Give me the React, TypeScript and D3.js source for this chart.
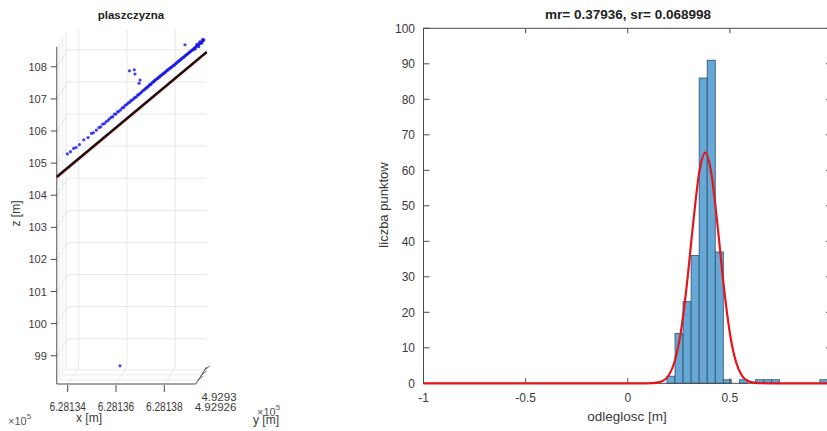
import React from "react";
import * as d3 from "d3";

const W = 827;
const H = 431;

// ---------- Left: 3D scatter "plaszczyzna" ----------
const leftTitle = "plaszczyzna";
const xDomain = [628133.55, 628139.3];
const yDomain = [492924.43, 492931.1];
const zDomain = [98.12, 108.62];
const zTicks = [99, 100, 101, 102, 103, 104, 105, 106, 107, 108];
const xTicks = [628134, 628136, 628138];
const xTickLabels = ["6.28134", "6.28136", "6.28138"];
const yTicks = [492926, 492928, 492930];
const yTickLabels = ["4.92926", "", "4.9293"];

// measured points (x, z); all lie at roughly the same depth
const pointsDepth = 492929.8;
const ptX = [
  628133.62, 628133.75, 628133.88, 628133.98, 628134.12, 628134.3, 628134.48, 628134.62, 628134.7, 628134.82,
  628134.93, 628135.0, 628135.08, 628135.15, 628135.22, 628135.3, 628135.36, 628135.44, 628135.5, 628135.57,
  628135.63, 628135.7, 628135.76, 628135.83, 628135.9, 628135.96, 628136.02, 628136.08, 628136.14, 628136.2,
  628136.25, 628136.31, 628136.37, 628136.42, 628136.48, 628136.53, 628136.58, 628136.63, 628136.68, 628136.73,
  628136.78, 628136.83, 628136.87, 628136.92, 628136.96, 628137.0, 628137.04, 628137.08, 628137.12, 628137.16,
  628137.2, 628137.24, 628137.28, 628137.32, 628137.36, 628137.4, 628137.44, 628137.48, 628137.52, 628137.56,
  628137.6, 628137.64, 628137.68, 628137.72, 628137.76, 628137.8, 628137.84, 628137.88, 628137.92, 628137.96,
  628138.0, 628138.04, 628138.08, 628138.12, 628138.16, 628138.2, 628138.24, 628138.28, 628138.32, 628138.36,
  628138.4, 628138.44, 628138.48, 628138.52, 628138.56, 628138.6, 628138.64, 628138.68, 628138.72, 628138.76,
  628138.8, 628138.84, 628138.88, 628138.92, 628138.96, 628139.0, 628139.04, 628139.08, 628139.12, 628139.16,
  628139.2, 628139.24, 628139.27, 628138.98, 628139.1, 628139.18, 628139.22, 628138.9, 628139.06,
  628136.19, 628136.39, 628136.42, 628136.63, 628136.59, 628138.49, 628135.8,
];
const ptZ = [
  104.86, 104.93, 105.03, 105.06, 105.15, 105.3, 105.37, 105.5, 105.52, 105.6,
  105.68, 105.7, 105.79, 105.8, 105.86, 105.9, 105.95, 106.0, 106.02, 106.1,
  106.1, 106.17, 106.19, 106.24, 106.3, 106.31, 106.38, 106.4, 106.45, 106.47,
  106.52, 106.54, 106.58, 106.62, 106.64, 106.7, 106.7, 106.75, 106.77, 106.82,
  106.84, 106.88, 106.9, 106.94, 106.95, 106.99, 107.03, 107.02, 107.07, 107.1,
  107.11, 107.15, 107.17, 107.2, 107.21, 107.25, 107.26, 107.3, 107.31, 107.35,
  107.36, 107.39, 107.41, 107.44, 107.47, 107.48, 107.52, 107.53, 107.56, 107.58,
  107.61, 107.62, 107.66, 107.68, 107.7, 107.74, 107.75, 107.79, 107.8, 107.83,
  107.86, 107.87, 107.91, 107.93, 107.95, 107.98, 108.0, 108.03, 108.05, 108.08,
  108.1, 108.13, 108.16, 108.17, 108.21, 108.23, 108.25, 108.29, 108.31, 108.34,
  108.36, 108.39, 108.41, 108.27, 108.35, 108.31, 108.43, 108.12, 108.2,
  107.45, 107.48, 107.35, 107.16, 107.06, 108.26, 98.26,
];

// fitted plane seen edge-on
const planeX = [628133.55, 628139.3];
const planeY = [492924.43, 492931.1];
const planeZ = [104.58, 107.94];

// ---------- Right: histogram ----------
const rightTitle = "mr= 0.37936, sr= 0.068998";
const histXTicks = [-1, -0.5, 0, 0.5, 1];
const histYTicks = [0, 10, 20, 30, 40, 50, 60, 70, 80, 90, 100];
const binStart = 0.192;
const binWidth = 0.0394;
const binCounts = [2, 14, 23, 36, 86, 91, 37, 1, 0, 1, 0, 1, 1, 1, 0, 0, 0, 0, 0, 1];
const fitX = [-1, 0.05, 0.12, 0.16, 0.2, 0.23, 0.26, 0.29, 0.32, 0.35, 0.38, 0.41, 0.44, 0.47, 0.5, 0.53, 0.56, 0.6, 0.64, 0.7, 1];
const fitY = [0, 0, 0.06, 0.41, 2.2, 6.2, 14.5, 28.1, 44.9, 59.4, 65.0, 58.9, 44.2, 27.5, 14.1, 6.0, 2.1, 0.39, 0.05, 0, 0];

const FONT = "'Liberation Sans', Arial, Helvetica, sans-serif";
const AX = "#4a4a4a";
const TXT = "#3a3a3a";
const GRID = "#e2e2e2";

export default function App() {
  // 3D projection scales
  const X = d3.scaleLinear().domain(xDomain).range([56.8, 195.7]);
  const Z = d3.scaleLinear().domain(zDomain).range([384, 46.9]);
  const F = d3.scaleLinear().domain(yDomain).range([0, 1]);
  const DX = 11;
  const DY = -17;
  const proj = (x: number, y: number, z: number): [number, number] => [
    X(x) + DX * F(y),
    Z(z) + DY * F(y),
  ];
  const [x0, x1] = xDomain;
  const [y0, y1] = yDomain;
  const [z0, z1] = zDomain;

  const seg = (a: [number, number], b: [number, number], key: string, stroke: string, sw = 0.8) => (
    <line key={key} x1={a[0]} y1={a[1]} x2={b[0]} y2={b[1]} stroke={stroke} strokeWidth={sw} />
  );

  const grid: React.ReactNode[] = [];
  xTicks.forEach((x, i) => {
    grid.push(seg(proj(x, y1, z0), proj(x, y1, z1), "bx" + i, GRID));
    grid.push(seg(proj(x, y0, z0), proj(x, y1, z0), "fx" + i, GRID));
  });
  zTicks.forEach((z, i) => {
    grid.push(seg(proj(x0, y1, z), proj(x1, y1, z), "bz" + i, GRID));
    grid.push(seg(proj(x0, y0, z), proj(x0, y1, z), "sz" + i, GRID));
  });
  yTicks.forEach((y, i) => {
    grid.push(seg(proj(x0, y, z0), proj(x1, y, z0), "fy" + i, GRID));
    grid.push(seg(proj(x0, y, z0), proj(x0, y, z1), "sy" + i, GRID));
  });

  const planeA = proj(planeX[0], planeY[0], planeZ[0]);
  const planeB = proj(planeX[1], planeY[1], planeZ[1]);

  // histogram scales
  const hx = d3.scaleLinear().domain([-1, 1]).range([423.5, 832]);
  const hy = d3.scaleLinear().domain([0, 100]).range([383.3, 28.3]);
  const fitLine = d3
    .line<number>()
    .x((_, i) => hx(fitX[i]))
    .y((d) => hy(d))
    .curve(d3.curveMonotoneX)(fitY) as string;

  const tk = 6;

  return (
    <svg
      width={W}
      height={H}
      style={{ position: "absolute", left: 0, top: 0, background: "#fff" }}
      fontFamily={FONT}
    >
      <rect x={0} y={0} width={W} height={H} fill="#fff" />
      {/* ---------- Left 3D plot ---------- */}
      <g>{grid}</g>
      {/* axes */}
      {seg(proj(x0, y0, z0), proj(x0, y0, z1), "zax", AX, 1)}
      {seg(proj(x0, y0, z0), proj(x1, y0, z0), "xax", AX, 1)}
      {seg(proj(x1, y0, z0), proj(x1, y1, z0), "yax", AX, 1)}
      {zTicks.map((z, i) => {
        const [px, py] = proj(x0, y0, z);
        return (
          <g key={"zt" + i}>
            <line x1={px - 6} y1={py} x2={px} y2={py} stroke={AX} strokeWidth={1} />
            <text x={px - 10} y={py + 4} textAnchor="end" fontSize={11} fill={TXT}>
              {z}
            </text>
          </g>
        );
      })}
      {xTicks.map((x, i) => {
        const [px, py] = proj(x, y0, z0);
        return (
          <g key={"xt" + i}>
            <line x1={px} y1={py + 1} x2={px} y2={py + 8} stroke={AX} strokeWidth={1} />
            <text
              x={px}
              y={py + 27}
              textAnchor="middle"
              fontSize={12}
              fill={TXT}
              textLength={36.5}
              lengthAdjust="spacingAndGlyphs"
            >
              {xTickLabels[i]}
            </text>
          </g>
        );
      })}
      {yTicks.map((y, i) => {
        const [px, py] = proj(x1, y, z0);
        return (
          <g key={"yt" + i}>
            <line x1={px} y1={py} x2={px + 5} y2={py - 4} stroke={AX} strokeWidth={0.8} />
            {yTickLabels[i] ? (
              <text x={px - 3.5} y={py + 31.5} fontSize={11.5} fill={TXT}>
                {yTickLabels[i]}
              </text>
            ) : null}
          </g>
        );
      })}
      {/* plane */}
      <line x1={planeA[0]} y1={planeA[1] + 0.7} x2={planeB[0]} y2={planeB[1] + 0.7} stroke="#8a1010" strokeWidth={2.2} />
      <line x1={planeA[0]} y1={planeA[1]} x2={planeB[0]} y2={planeB[1]} stroke="#111" strokeWidth={2} />
      {/* points */}
      {ptX.map((x, i) => {
        const [px, py] = proj(x, pointsDepth, ptZ[i]);
        return <circle key={"p" + i} cx={px} cy={py} r={1.6} fill="#1414e6" fillOpacity={0.8} />;
      })}
      <text x={131} y={18.5} textAnchor="middle" fontSize={11.5} fontWeight="bold" fill="#222">
        {leftTitle}
      </text>
      <text transform="translate(20,213.5) rotate(-90)" textAnchor="middle" fontSize={12} fill={TXT}>
        z [m]
      </text>
      <text x={89} y={422} textAnchor="middle" fontSize={12} fill={TXT}>
        x [m]
      </text>
      <text x={8} y={425} fontSize={11} fill="#555">
        ×10
        <tspan dy={-6} fontSize={8}>
          5
        </tspan>
      </text>
      <text x={253} y={424} fontSize={12} fill={TXT}>
        y [m]
      </text>
      <text x={257} y={416} fontSize={11} fill="#555">
        ×10
        <tspan dy={-6} fontSize={8}>
          5
        </tspan>
      </text>

      {/* ---------- Right histogram ---------- */}
      {binCounts.map((c, i) =>
        c > 0 ? (
          <rect
            key={"b" + i}
            x={hx(binStart + i * binWidth)}
            y={hy(c)}
            width={hx(binStart + (i + 1) * binWidth) - hx(binStart + i * binWidth)}
            height={hy(0) - hy(c)}
            fill="#66a9d6"
            stroke="#2f4e6c"
            strokeWidth={0.8}
          />
        ) : null
      )}
      {/* box */}
      <rect x={hx(-1)} y={hy(100)} width={hx(1) - hx(-1)} height={hy(0) - hy(100)} fill="none" stroke={AX} strokeWidth={1} />
      {histXTicks.map((t, i) => (
        <g key={"hxt" + i}>
          <line x1={hx(t)} y1={hy(0)} x2={hx(t)} y2={hy(0) - 5} stroke={AX} strokeWidth={1} />
          <line x1={hx(t)} y1={hy(100)} x2={hx(t)} y2={hy(100) + 5} stroke={AX} strokeWidth={1} />
          <text x={hx(t)} y={402} textAnchor="middle" fontSize={12} fill={TXT}>
            {String(t)}
          </text>
        </g>
      ))}
      {histYTicks.map((t, i) => (
        <g key={"hyt" + i}>
          <line x1={hx(-1)} y1={hy(t)} x2={hx(-1) + tk} y2={hy(t)} stroke={AX} strokeWidth={1} />
          <line x1={hx(1)} y1={hy(t)} x2={hx(1) - tk} y2={hy(t)} stroke={AX} strokeWidth={1} />
          <text x={415} y={hy(t) + 4.3} textAnchor="end" fontSize={12} fill={TXT}>
            {t}
          </text>
        </g>
      ))}
      <path d={fitLine} fill="none" stroke="#e3161b" strokeWidth={2.2} strokeLinejoin="round" />
      <text x={628} y={19} textAnchor="middle" fontSize={13.5} fontWeight="bold" fill="#222">
        {rightTitle}
      </text>
      <text transform="translate(388,205) rotate(-90)" textAnchor="middle" fontSize={13} fill={TXT}>
        liczba punktow
      </text>
      <text x={627} y={421} textAnchor="middle" fontSize={13.5} fill={TXT}>
        odleglosc [m]
      </text>
    </svg>
  );
}
